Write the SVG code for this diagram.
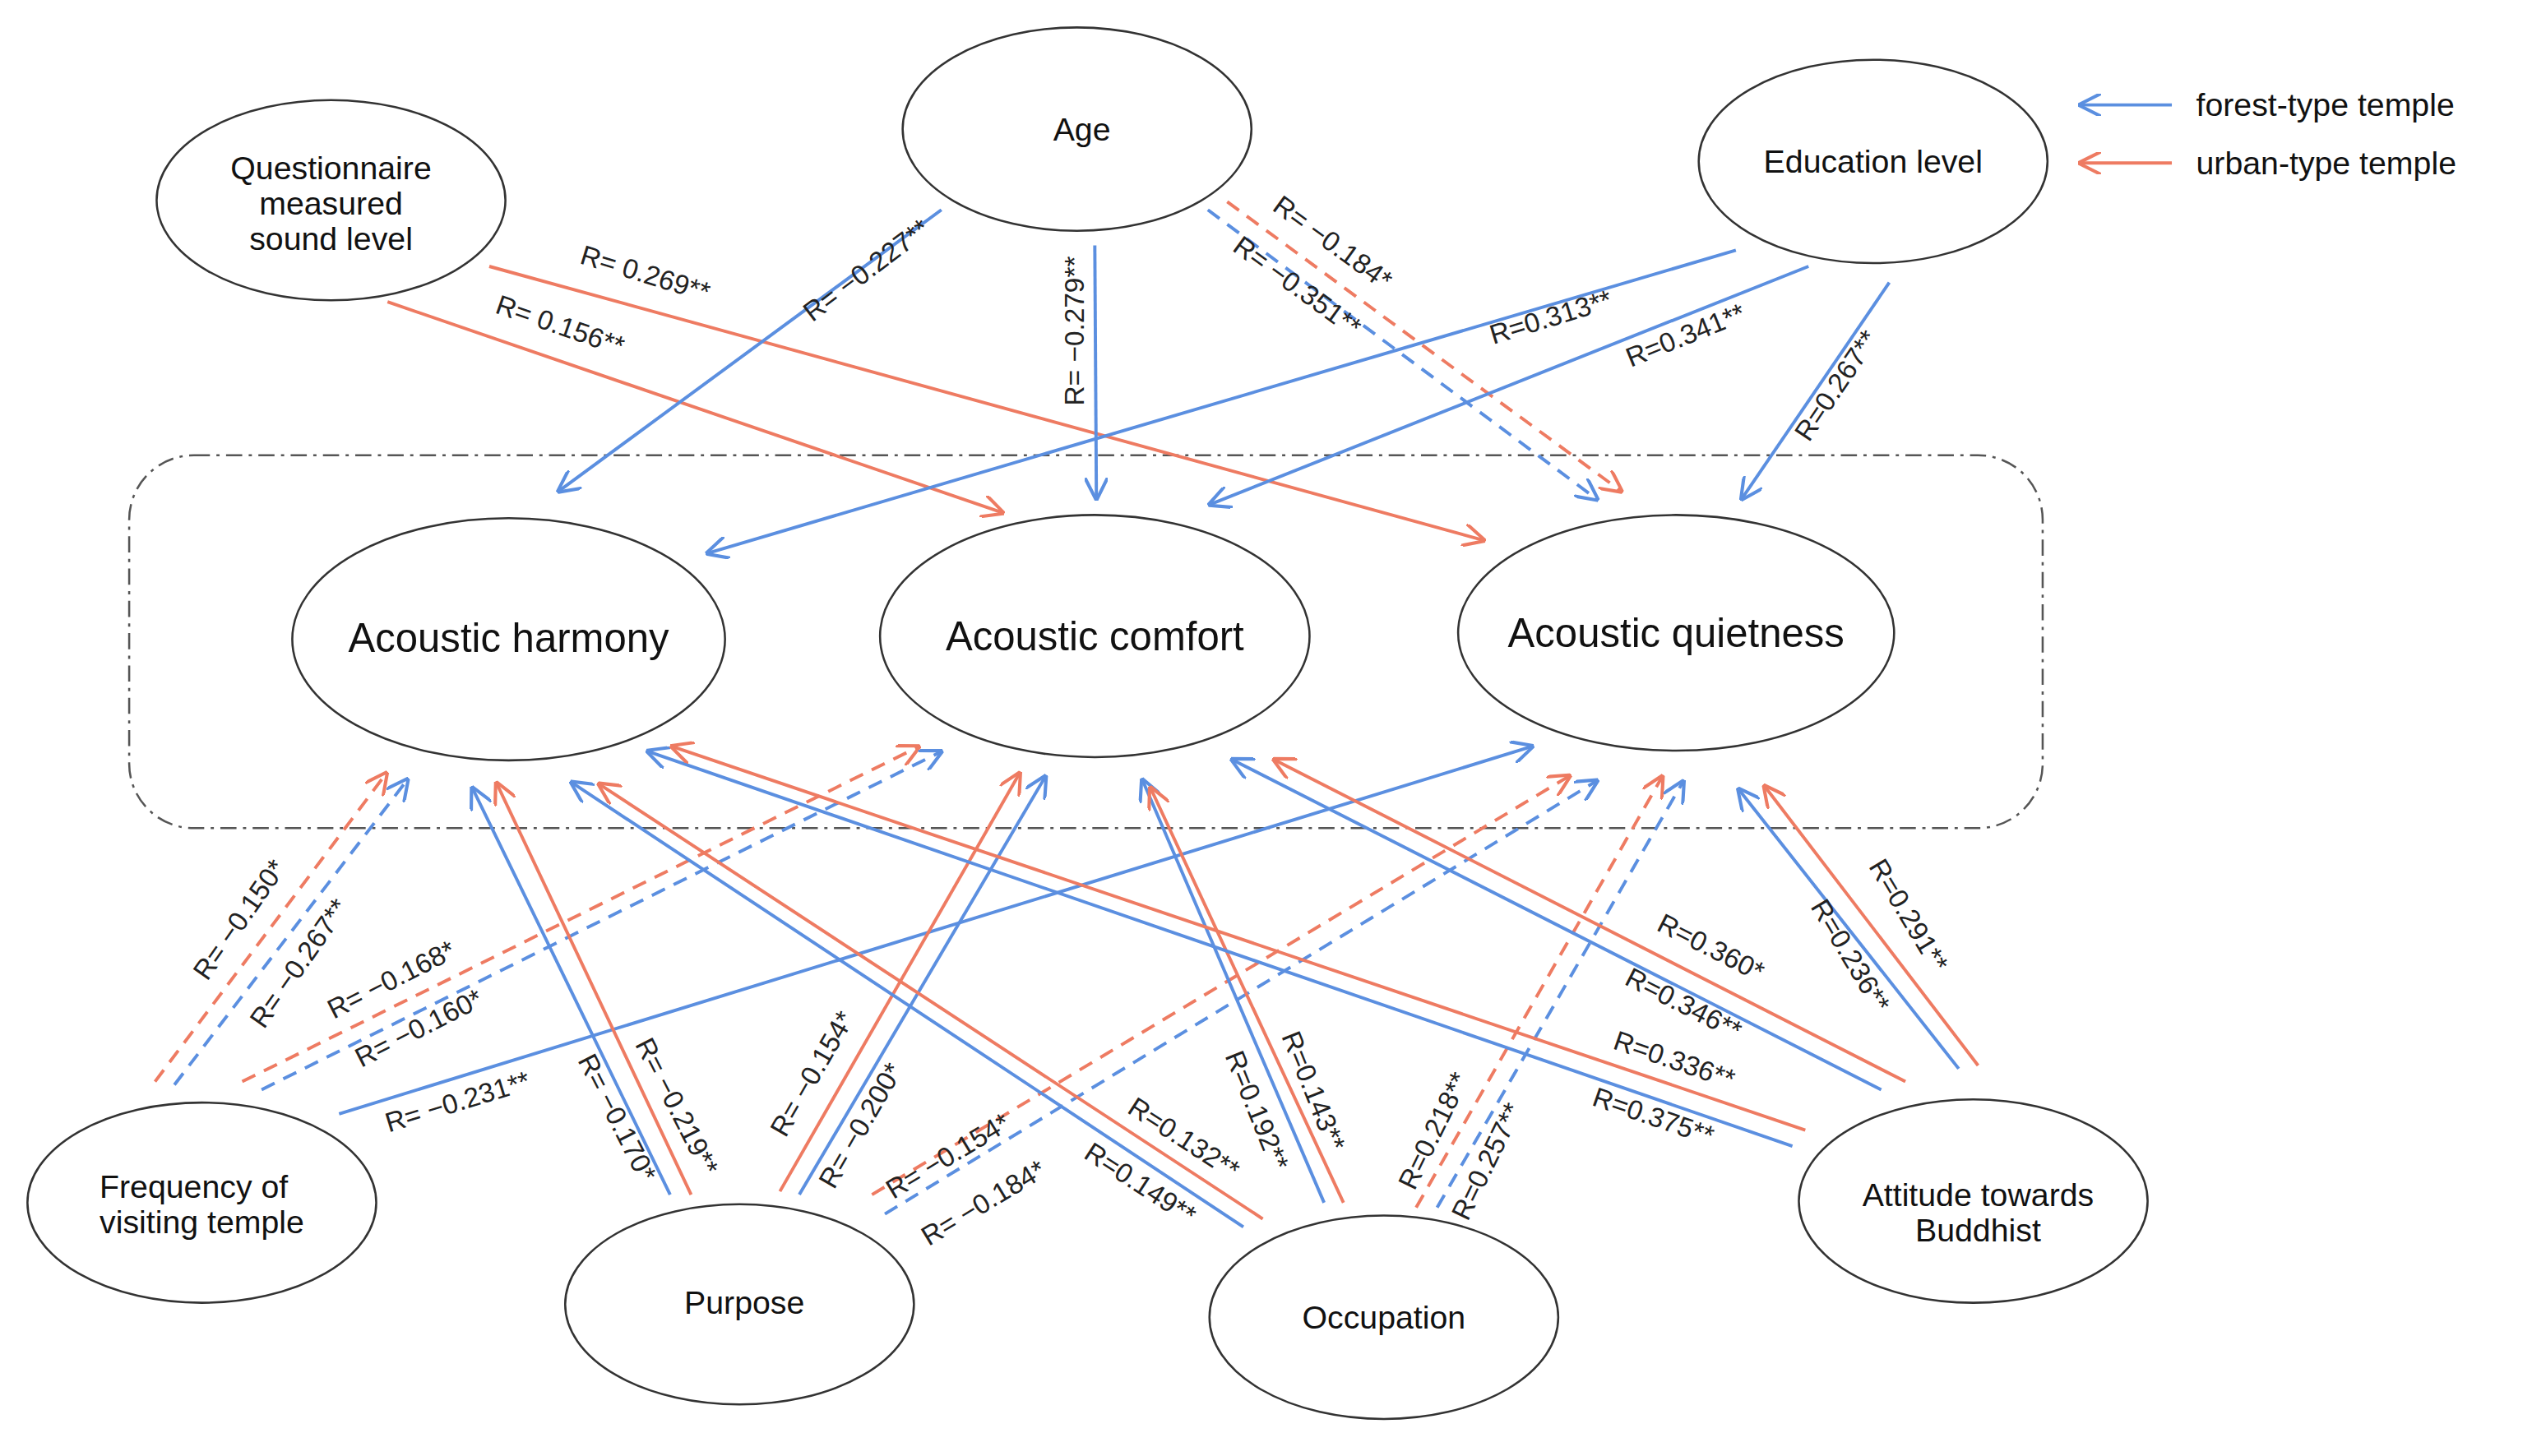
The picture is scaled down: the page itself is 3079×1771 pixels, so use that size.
<svg xmlns="http://www.w3.org/2000/svg" width="3079" height="1771" viewBox="0 0 3079 1771">
<style>
.n{fill:#fff;stroke:#333;stroke-width:1.3}
.t{font-family:"Liberation Sans",Arial,sans-serif;font-size:20px;fill:#111;text-anchor:middle}
.tb{font-family:"Liberation Sans",Arial,sans-serif;font-size:25px;fill:#111;text-anchor:middle}
.l{font-family:"Liberation Sans",Arial,sans-serif;font-size:17px;fill:#222;text-anchor:middle}
.b{stroke:#5b8fe0;stroke-width:2;fill:none;marker-end:url(#ab)}
.r{stroke:#ee7b62;stroke-width:2;fill:none;marker-end:url(#ar)}
.d{stroke-dasharray:9 6}
</style>
<defs>
<marker id="ab" viewBox="0 0 10 10" refX="10" refY="5" markerWidth="14" markerHeight="14" markerUnits="userSpaceOnUse" orient="auto"><path d="M0,0 L10,5 L0,10" fill="none" stroke="#5b8fe0" stroke-width="1.5"/></marker>
<marker id="ar" viewBox="0 0 10 10" refX="10" refY="5" markerWidth="14" markerHeight="14" markerUnits="userSpaceOnUse" orient="auto"><path d="M0,0 L10,5 L0,10" fill="none" stroke="#ee7b62" stroke-width="1.5"/></marker>
</defs>
<rect width="3079" height="1771" fill="#fff"/>
<g transform="scale(1.9636)">
<rect x="80" y="282" width="1185" height="231" rx="40" fill="none" stroke="#555" stroke-width="1.3" stroke-dasharray="10 4 2 4"/>
<g id="connectors">
<line class="r" x1="240" y1="187" x2="622" y2="318"/>
<line class="r" x1="303" y1="165" x2="920" y2="335"/>
<line class="b" x1="583" y1="130" x2="345" y2="305"/>
<line class="b" x1="678" y1="152" x2="679" y2="310"/>
<line class="r d" x1="760" y1="125" x2="1005" y2="305"/>
<line class="b d" x1="748" y1="130" x2="990" y2="310"/>
<line class="b" x1="1075" y1="155" x2="437" y2="343"/>
<line class="b" x1="1120" y1="165" x2="748" y2="313"/>
<line class="b" x1="1170" y1="175" x2="1078" y2="310"/>
<line class="r d" x1="96" y1="670" x2="240" y2="478"/>
<line class="b d" x1="108" y1="672" x2="253" y2="482"/>
<line class="r d" x1="150" y1="670" x2="570" y2="462"/>
<line class="b d" x1="162" y1="675" x2="584" y2="465"/>
<line class="b" x1="210" y1="690" x2="950" y2="462"/>
<line class="b" x1="415" y1="740" x2="292" y2="487"/>
<line class="r" x1="428" y1="740" x2="307" y2="484"/>
<line class="r" x1="483" y1="738" x2="632" y2="478"/>
<line class="b" x1="495" y1="740" x2="648" y2="480"/>
<line class="r d" x1="540" y1="740" x2="973" y2="480"/>
<line class="b d" x1="548" y1="752" x2="990" y2="483"/>
<line class="b" x1="770" y1="760" x2="353" y2="484"/>
<line class="r" x1="782" y1="755" x2="370" y2="485"/>
<line class="b" x1="820" y1="745" x2="707" y2="482"/>
<line class="r" x1="832" y1="745" x2="712" y2="487"/>
<line class="r d" x1="877" y1="748" x2="1030" y2="480"/>
<line class="b d" x1="890" y1="748" x2="1043" y2="483"/>
<line class="b" x1="1110" y1="710" x2="400" y2="465"/>
<line class="r" x1="1118" y1="700" x2="415" y2="462"/>
<line class="b" x1="1165" y1="675" x2="762" y2="470"/>
<line class="r" x1="1180" y1="670" x2="788" y2="470"/>
<line class="b" x1="1213" y1="662" x2="1076" y2="488"/>
<line class="r" x1="1225" y1="660" x2="1092" y2="486"/>
<line class="b" x1="1345" y1="65" x2="1287" y2="65"/>
<line class="r" x1="1345" y1="101" x2="1287" y2="101"/>
</g>
<g id="labels">
<text class="l" transform="translate(345,207) rotate(19)">R= 0.156**</text>
<text class="l" transform="translate(398,175) rotate(17)">R= 0.269**</text>
<text class="l" transform="translate(540,172) rotate(-37)">R= −0.227**</text>
<text class="l" transform="translate(671,205) rotate(-90)">R= −0.279**</text>
<text class="l" transform="translate(822,155) rotate(36)">R= −0.184*</text>
<text class="l" transform="translate(800,182) rotate(36)">R= −0.351**</text>
<text class="l" transform="translate(962,202) rotate(-17)">R=0.313**</text>
<text class="l" transform="translate(1046,213) rotate(-22)">R=0.341**</text>
<text class="l" transform="translate(1142,242) rotate(-56)">R=0.267**</text>
<text class="l" transform="translate(153,573) rotate(-55)">R= −0.150*</text>
<text class="l" transform="translate(190,600) rotate(-55)">R= −0.267**</text>
<text class="l" transform="translate(245,612) rotate(-27)">R= −0.168*</text>
<text class="l" transform="translate(262,642) rotate(-27)">R= −0.160*</text>
<text class="l" transform="translate(285,688) rotate(-17)">R= −0.231**</text>
<text class="l" transform="translate(377,695) rotate(63)">R= −0.170*</text>
<text class="l" transform="translate(414,688) rotate(63)">R= −0.219**</text>
<text class="l" transform="translate(508,668) rotate(-60)">R= −0.154*</text>
<text class="l" transform="translate(538,700) rotate(-60)">R= −0.200*</text>
<text class="l" transform="translate(590,721) rotate(-31)">R= −0.154*</text>
<text class="l" transform="translate(612,750) rotate(-31)">R= −0.184*</text>
<text class="l" transform="translate(703,738) rotate(33)">R=0.149**</text>
<text class="l" transform="translate(730,710) rotate(33)">R=0.132**</text>
<text class="l" transform="translate(773,690) rotate(68)">R=0.192**</text>
<text class="l" transform="translate(808,678) rotate(68)">R=0.143**</text>
<text class="l" transform="translate(893,703) rotate(-64)">R=0.218**</text>
<text class="l" transform="translate(926,722) rotate(-64)">R=0.257**</text>
<text class="l" transform="translate(1022,697) rotate(19)">R=0.375**</text>
<text class="l" transform="translate(1035,662) rotate(19)">R=0.336**</text>
<text class="l" transform="translate(1040,627) rotate(27)">R=0.346**</text>
<text class="l" transform="translate(1057,592) rotate(27)">R=0.360*</text>
<text class="l" transform="translate(1141,595) rotate(59)">R=0.236**</text>
<text class="l" transform="translate(1177,570) rotate(59)">R=0.291**</text>
</g>
<g id="q"><ellipse class="n" cx="205" cy="124" rx="108" ry="62"/><text class="t" x="205" y="111">Questionnaire</text><text class="t" x="205" y="133">measured</text><text class="t" x="205" y="155">sound level</text></g>
<g id="age"><ellipse class="n" cx="667" cy="80" rx="108" ry="63"/><text class="t" x="670" y="87">Age</text></g>
<g id="edu"><ellipse class="n" cx="1160" cy="100" rx="108" ry="63"/><text class="t" x="1160" y="107">Education level</text></g>
<g id="harmony"><ellipse class="n" cx="315" cy="396" rx="134" ry="75"/><text class="tb" x="315" y="404">Acoustic harmony</text></g>
<g id="comfort"><ellipse class="n" cx="678" cy="394" rx="133" ry="75"/><text class="tb" x="678" y="403">Acoustic comfort</text></g>
<g id="quiet"><ellipse class="n" cx="1038" cy="392" rx="135" ry="73"/><text class="tb" x="1038" y="401">Acoustic quietness</text></g>
<g id="freq"><ellipse class="n" cx="125" cy="745" rx="108" ry="62"/><text class="t" x="120" y="742">Frequency of</text><text class="t" x="125" y="764">visiting temple</text></g>
<g id="purpose"><ellipse class="n" cx="458" cy="808" rx="108" ry="62"/><text class="t" x="461" y="814">Purpose</text></g>
<g id="occupation"><ellipse class="n" cx="857" cy="816" rx="108" ry="63"/><text class="t" x="857" y="823">Occupation</text></g>
<g id="attitude"><ellipse class="n" cx="1222" cy="744" rx="108" ry="63"/><text class="t" x="1225" y="747">Attitude towards</text><text class="t" x="1225" y="769">Buddhist</text></g>
<g id="legend"><text class="t" x="1360" y="72" style="text-anchor:start">forest-type temple</text><text class="t" x="1360" y="108" style="text-anchor:start">urban-type temple</text></g>
</g>
</svg>
